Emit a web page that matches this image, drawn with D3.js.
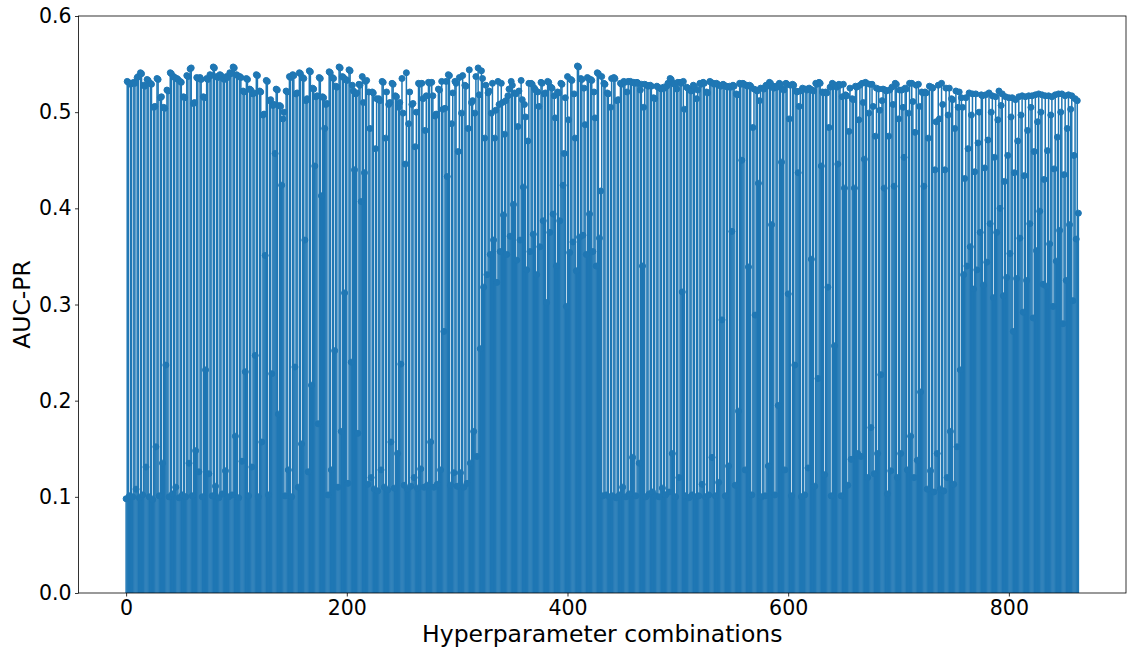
<!DOCTYPE html>
<html>
<head>
<meta charset="utf-8">
<script src="https://cdnjs.cloudflare.com/ajax/libs/d3/7.8.5/d3.min.js"></script>
<style>
  html, body { margin: 0; padding: 0; background: #fff; }
  svg { display: block; font-family: "DejaVu Sans", sans-serif; }
</style>
</head>
<body>
<svg id="chart" width="1127" height="650"></svg>
<script>
// AUC-PR per hyperparameter combination in blocks of 108
const aucBlock1 = [.098,.532,.531, .101,.529,.530, .100,.531,.530, .108,.536,.537, .099,.541,.540, .102,.528,.527, .131,.534,.533, .100,.530,.529, .097,.505,.506, .152,.535,.534, .101,.515,.516, .135,.505,.504, .237,.523,.522, .100,.541,.540, .103,.537,.536, .110,.535,.534, .099,.532,.531, .102,.516,.515, .100,.538,.537, .135,.545,.546, .101,.509,.510, .148,.536,.535, .126,.536,.534, .100,.516,.515, .232,.535,.534, .124,.539,.538, .101,.547,.546, .111,.537,.536, .099,.539,.538, .103,.535,.534, .127,.537,.536, .100,.541,.540, .102,.547,.546, .163,.539,.538, .099,.537,.536, .137,.522,.521];
const aucBlock2 = [.230,.535,.534, .101,.524,.523, .131,.519,.520, .247,.539,.538, .100,.522,.521, .157,.497,.498, .351,.533,.532, .102,.512,.513, .228,.507,.508, .457,.524,.523, .186,.507,.506, .424,.493,.500, .101,.522,.521, .128,.537,.536, .100,.539,.538, .235,.519,.520, .110,.541,.540, .155,.536,.535, .367,.512,.514, .126,.543,.542, .216,.525,.524, .444,.516,.517, .176,.536,.535, .413,.516,.515, .483,.508,.509, .102,.542,.541, .128,.536,.535, .252,.527,.526, .110,.547,.546, .168,.537,.536, .312,.534,.533, .114,.544,.543, .240,.528,.522, .440,.519,.520, .166,.529,.528, .407,.537,.510];
const aucBlock3 = [.437,.532,.533, .113,.521,.483, .120,.521,.520, .108,.462,.514, .106,.514,.512, .128,.532,.531, .110,.473,.521, .107,.508,.510, .157,.530,.529, .109,.517,.516, .145,.505,.510, .238,.535,.499, .112,.446,.541, .108,.488,.521, .111,.508,.509, .120,.464,.500, .109,.530,.529, .129,.530,.514, .110,.481,.517, .112,.531,.530, .157,.531,.517, .110,.496,.498, .113,.524,.523, .128,.532,.503, .272,.504,.532, .433,.539,.538, .112,.488,.520, .125,.532,.530, .111,.459,.536, .125,.499,.538, .110,.528,.527, .114,.483,.544, .135,.510,.512, .168,.499,.537, .142,.546,.518, .254,.543,.535];
const aucBlock4 = [.318,.473,.528, .331,.520,.522, .352,.499,.530, .367,.473,.502, .323,.532,.508, .355,.530,.510, .393,.477,.512, .352,.517,.524, .371,.532,.528, .404,.520,.519, .346,.485,.522, .367,.533,.513, .422,.508,.495, .336,.470,.530, .355,.530,.529, .373,.525,.523, .331,.521,.506, .360,.531,.530, .387,.519,.520, .302,.532,.531, .375,.526,.525, .394,.517,.494, .340,.521,.520, .387,.530,.529, .424,.457,.515, .298,.537,.492, .354,.534,.533, .365,.519,.473, .335,.548,.547, .370,.535,.534, .372,.525,.487, .352,.536,.535, .394,.534,.533, .355,.521,.494, .340,.541,.540, .369,.418,.537];
const aucBlock5 = [.101,.530,.529, .102,.520,.519, .100,.505,.535, .101,.536,.535, .099,.512,.513, .102,.530,.529, .110,.532,.531, .100,.521,.532, .103,.532,.531, .141,.531,.530, .101,.531,.530, .135,.523,.529, .340,.505,.529, .100,.528,.527, .103,.528,.527, .105,.515,.514, .101,.527,.526, .100,.525,.524, .109,.526,.525, .102,.527,.530, .105,.535,.534, .145,.530,.529, .100,.524,.531, .120,.531,.530, .313,.532,.503, .101,.526,.525, .099,.523,.522, .102,.528,.527, .100,.514,.523, .101,.530,.529, .113,.531,.530, .100,.521,.520, .102,.532,.531, .141,.530,.529, .101,.530,.529, .115,.528,.527];
const aucBlock6 = [.284,.529,.528, .101,.527,.526, .132,.527,.526, .376,.528,.527, .112,.519,.518, .189,.530,.529, .450,.530,.529, .128,.528,.527, .339,.528,.527, .102,.484,.524, .289,.523,.522, .426,.512,.525, .100,.525,.524, .101,.528,.527, .132,.531,.530, .383,.527,.525, .102,.527,.526, .195,.530,.529, .448,.524,.523, .128,.530,.529, .311,.493,.528, .101,.529,.528, .237,.522,.521, .437,.506,.522, .100,.525,.524, .102,.524,.523, .130,.525,.524, .347,.523,.522, .111,.530,.529, .223,.531,.530, .444,.521,.520, .123,.521,.520, .318,.484,.526, .101,.530,.529, .257,.527,.526, .446,.529,.528];
const aucBlock7 = [.101,.516,.529, .421,.518,.517, .112,.480,.525, .139,.514,.513, .421,.527,.526, .145,.492,.528, .142,.530,.510, .451,.531,.530, .120,.499,.529, .172,.529,.506, .124,.475,.525, .145,.524,.502, .227,.512,.524, .421,.523,.522, .103,.475,.523, .127,.526,.508, .423,.530,.529, .120,.493,.523, .145,.523,.505, .453,.525,.524, .128,.499,.530, .163,.530,.511, .120,.479,.528, .138,.529,.506, .209,.521,.520, .423,.521,.520, .108,.473,.527, .127,.526,.525, .105,.440,.490, .145,.528,.493, .108,.530,.508, .106,.440,.525, .120,.497,.525, .168,.514,.513, .113,.483,.522, .152,.505,.521];
const aucBlock8 = [.232,.515,.505, .331,.431,.515, .340,.462,.520, .360,.497,.519, .316,.438,.519, .336,.468,.500, .375,.518,.517, .320,.442,.518, .344,.471,.520, .384,.500,.517, .307,.453,.516, .375,.492,.522, .400,.507,.519, .309,.428,.516, .328,.455,.515, .353,.495,.515, .272,.437,.513, .327,.470,.516, .369,.497,.517, .292,.434,.516, .325,.481,.517, .384,.505,.517, .286,.459,.518, .356,.490,.519, .397,.500,.518, .321,.430,.517, .319,.460,.517, .363,.497,.516, .298,.441,.518, .345,.474,.519, .377,.500,.519, .280,.435,.517, .325,.483,.518, .383,.503,.517, .304,.455,.514, .368,.512,.395];

const xTickValues = [0, 200, 400, 600, 800];
const yTickValues = [0, 0.1, 0.2, 0.3, 0.4, 0.5, 0.6];

const aucPr = [].concat(aucBlock1, aucBlock2, aucBlock3, aucBlock4,
                        aucBlock5, aucBlock6, aucBlock7, aucBlock8);
const points = aucPr.map((v, i) => ({ idx: i, value: v }));

const color = "#1f77b4";
const margin = { top: 16, right: 1, bottom: 57, left: 78.5 };
const width = 1127, height = 650;

const svg = d3.select("#chart");

// matplotlib style autoscale: 5% padding either side
const last = points.length - 1;
const pad = last * 0.05;
const x = d3.scaleLinear()
    .domain([-pad, last + pad])
    .range([margin.left, width - margin.right]);
const y = d3.scaleLinear()
    .domain([0, 0.6])
    .range([height - margin.bottom, margin.top]);

// stems
svg.append("g")
    .selectAll("line")
    .data(points)
    .join("line")
    .attr("x1", d => x(d.idx))
    .attr("x2", d => x(d.idx))
    .attr("y1", y(0))
    .attr("y2", d => y(d.value))
    .attr("stroke", color)
    .attr("stroke-width", 1.5);

// markers
svg.append("g")
    .selectAll("circle")
    .data(points)
    .join("circle")
    .attr("cx", d => x(d.idx))
    .attr("cy", d => y(d.value))
    .attr("r", 3)
    .attr("fill", color)
    .attr("stroke", color)
    .attr("stroke-width", 1);

// axes
const xAxis = svg.append("g")
    .attr("transform", `translate(0,${y(0)})`)
    .call(d3.axisBottom(x).tickValues(xTickValues).tickFormat(d3.format("d"))
        .tickSize(3.5).tickSizeOuter(0).tickPadding(3.5));
const yAxis = svg.append("g")
    .attr("transform", `translate(${margin.left},0)`)
    .call(d3.axisLeft(y).tickValues(yTickValues).tickFormat(d3.format(".1f"))
        .tickSize(3.5).tickSizeOuter(0).tickPadding(3.5));

[xAxis, yAxis].forEach(g => {
    g.select(".domain").remove();
    g.selectAll(".tick line").attr("stroke", "#000").attr("stroke-width", 0.8);
    g.selectAll(".tick text")
        .attr("fill", "#000")
        .style("font-size", "20.5px")
        .style("font-family", "DejaVu Sans");
});

// spines
svg.append("rect")
    .attr("x", margin.left)
    .attr("y", margin.top)
    .attr("width", width - margin.right - margin.left)
    .attr("height", y(0) - margin.top)
    .attr("fill", "none")
    .attr("stroke", "#000")
    .attr("stroke-width", 0.8);

// axis labels
svg.append("text")
    .attr("x", (margin.left + width - margin.right) / 2)
    .attr("y", 642)
    .attr("text-anchor", "middle")
    .style("font-size", "23.5px")
    .text("Hyperparameter combinations");

svg.append("text")
    .attr("transform", `translate(30,${(margin.top + y(0)) / 2}) rotate(-90)`)
    .attr("text-anchor", "middle")
    .style("font-size", "23.5px")
    .text("AUC-PR");
</script>
</body>
</html>
